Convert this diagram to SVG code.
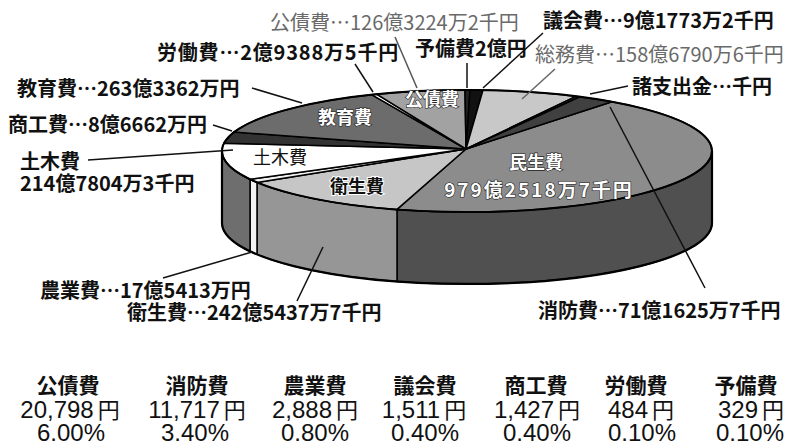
<svg xmlns="http://www.w3.org/2000/svg" width="790" height="446" viewBox="0 0 790 446">
<style>
.lbl{font-family:"Noto Sans CJK JP","Noto Sans CJK SC","DejaVu Sans",sans-serif;font-size:20px;font-weight:bold;fill:#111}
.gry{font-weight:normal;fill:#6a6a6a}
.in{font-family:"Noto Sans CJK JP","Noto Sans CJK SC","DejaVu Sans",sans-serif;font-size:18px;font-weight:bold;fill:#fff;stroke:#222;stroke-width:1.2;paint-order:stroke}
.inb{font-family:"Noto Sans CJK JP","Noto Sans CJK SC","DejaVu Sans",sans-serif;font-size:18px;fill:#111;stroke:#fff;stroke-width:2;paint-order:stroke}
.edge{stroke:#000;stroke-width:1.5;stroke-linejoin:round}
.ld{stroke:#111;stroke-width:1.5;fill:none}
.th{font-family:"Noto Sans CJK JP","Noto Sans CJK SC",sans-serif;font-size:21px;font-weight:bold;fill:#111;text-anchor:middle}
.tv{font-family:"Liberation Sans","Noto Sans CJK JP","Noto Sans CJK SC",sans-serif;font-size:24px;fill:#111;text-anchor:middle}
.yen{font-family:"Noto Sans CJK JP","Noto Sans CJK SC",sans-serif;font-size:22px}
</style>
<rect width="790" height="446" fill="#fff"/>
<g id="pie">
  <g id="sides">
    <path class="edge" fill="#505050" d="M712,151 A245,61 0 0 1 397,209.4 L397,281.4 A245,61 0 0 0 712,223 Z"/>
    <path class="edge" fill="#969696" d="M397,209.4 A245,61 0 0 1 257,182.4 L257,254.4 A245,61 0 0 0 397,281.4 Z"/>
    <path class="edge" fill="#f4f4f4" d="M257,182.4 A245,61 0 0 1 250,179.3 L250,251.3 A245,61 0 0 0 257,254.4 Z"/>
    <path class="edge" fill="#6e6e6e" d="M250,179.3 A245,61 0 0 1 222,151 L222,223 A245,61 0 0 0 250,251.3 Z"/>
  </g>
  <g id="top">
    <path id="s-minsei" class="edge" fill="#8c8c8c" d="M466,149 L612,101.8 A245,61 0 0 1 397,209.4 Z"/>
    <path id="s-eisei" class="edge" fill="#c6c6c6" d="M466,149 L397,209.4 A245,61 0 0 1 257,182.4 Z"/>
    <path id="s-nogyo" class="edge" fill="#f0f0f0" d="M466,149 L257,182.4 A245,61 0 0 1 250,179.3 Z"/>
    <path id="s-doboku" class="edge" fill="#ffffff" d="M466,149 L250,179.3 A245,61 0 0 1 224,143.2 Z"/>
    <path id="s-shoko" class="edge" fill="#333" d="M466,149 L224,143.2 A245,61 0 0 1 234,132.1 Z"/>
    <path id="s-kyoiku" class="edge" fill="#6c6c6c" d="M466,149 L234,132.1 A245,61 0 0 1 372,94.8 Z"/>
    <path id="s-rodo" class="edge" fill="#ffffff" d="M466,149 L372,94.8 A245,61 0 0 1 377,94.3 Z"/>
    <path id="s-kosai" class="edge" fill="#a2a2a2" d="M466,149 L377,94.3 A245,61 0 0 1 465,90 Z"/>
    <path id="s-yobi" class="edge" fill="#222" d="M466,149 L465,90 A245,61 0 0 1 470,90 Z"/>
    <path id="s-gikai" class="edge" fill="#111" d="M466,149 L470,90 A245,61 0 0 1 483,90.1 Z"/>
    <path id="s-somu" class="edge" fill="#c8c8c8" d="M466,149 L483,90.1 A245,61 0 0 1 576,96.4 Z"/>
    <path id="s-shoshi" class="edge" fill="#222" d="M466,149 L576,96.4 A245,61 0 0 1 580,96.9 Z"/>
    <path id="s-shobo" class="edge" fill="#404040" d="M466,149 L580,96.9 A245,61 0 0 1 612,101.8 Z"/>
  </g>
  <ellipse cx="467" cy="151" rx="245" ry="61" fill="none" stroke="#000" stroke-width="2"/>
  <path d="M222,151 L222,223 A245,61 0 0 0 712,223 L712,151" fill="none" stroke="#000" stroke-width="2.2"/>
  <text class="in" x="432" y="106" text-anchor="middle">公債費</text>
  <text class="in" x="345" y="124" text-anchor="middle">教育費</text>
  <text class="inb" x="280" y="164" text-anchor="middle">土木費</text>
  <text class="inb" x="357" y="193" text-anchor="middle" style="font-weight:bold">衛生費</text>
  <text class="in" x="536" y="169" text-anchor="middle">民生費</text>
  <text class="in" x="539" y="197" text-anchor="middle" style="font-size:19px" letter-spacing="2">979億2518万7千円</text>
</g>
<g id="connectors">
  <line class="ld" style="stroke:#555" x1="395" y1="37" x2="417" y2="88"/>
  <line class="ld" x1="355" y1="64" x2="373" y2="92"/>
  <line class="ld" x1="252" y1="88" x2="302" y2="103"/>
  <line class="ld" x1="213" y1="125" x2="232" y2="131"/>
  <line class="ld" x1="88" y1="160" x2="233" y2="150"/>
  <line class="ld" x1="163" y1="278" x2="252" y2="252"/>
  <line class="ld" x1="297" y1="301" x2="323" y2="247"/>
  <line class="ld" x1="610" y1="107" x2="705" y2="288"/>
  <line class="ld" x1="543" y1="33" x2="483" y2="88"/>
  <line class="ld" x1="467" y1="63" x2="467" y2="88"/>
  <line class="ld" style="stroke:#666" x1="555" y1="69" x2="522" y2="99"/>
  <line class="ld" x1="628" y1="86" x2="590" y2="94"/>
</g>
<g id="labels">
  <text class="lbl gry" x="270" y="30">公債費…126億3224万2千円</text>
  <text class="lbl" x="157" y="60" letter-spacing="0.8">労働費…2億9388万5千円</text>
  <text class="lbl" x="17" y="96">教育費…263億3362万円</text>
  <text class="lbl" x="8" y="132">商工費…8億6662万円</text>
  <text class="lbl" x="20" y="169">土木費</text>
  <text class="lbl" x="20" y="191">214億7804万3千円</text>
  <text class="lbl" x="40" y="298">農業費…17億5413万円</text>
  <text class="lbl" x="127" y="320">衛生費…242億5437万7千円</text>
  <text class="lbl" x="538" y="318">消防費…71億1625万7千円</text>
  <text class="lbl" x="543" y="28">議会費…9億1773万2千円</text>
  <text class="lbl" x="415" y="56">予備費2億円</text>
  <text class="lbl gry" x="535" y="62">総務費…158億6790万6千円</text>
  <text class="lbl" x="632" y="94">諸支出金…千円</text>
</g>
<g id="table">
  <text class="th" x="68" y="393">公債費</text>
  <text class="tv" x="70" y="418">20,798<tspan class="yen" dx="4">円</tspan></text>
  <text class="tv" x="71" y="441">6.00%</text>
  <text class="th" x="197" y="393">消防費</text>
  <text class="tv" x="197" y="418">11,717<tspan class="yen" dx="4">円</tspan></text>
  <text class="tv" x="195" y="441">3.40%</text>
  <text class="th" x="315" y="393">農業費</text>
  <text class="tv" x="315" y="418">2,888<tspan class="yen" dx="4">円</tspan></text>
  <text class="tv" x="315" y="441">0.80%</text>
  <text class="th" x="425" y="393">議会費</text>
  <text class="tv" x="424" y="418">1,511<tspan class="yen" dx="4">円</tspan></text>
  <text class="tv" x="425" y="441">0.40%</text>
  <text class="th" x="536" y="393">商工費</text>
  <text class="tv" x="537" y="418">1,427<tspan class="yen" dx="4">円</tspan></text>
  <text class="tv" x="537" y="441">0.40%</text>
  <text class="th" x="636" y="393">労働費</text>
  <text class="tv" x="641" y="418">484<tspan class="yen" dx="4">円</tspan></text>
  <text class="tv" x="642" y="441">0.10%</text>
  <text class="th" x="746" y="393">予備費</text>
  <text class="tv" x="751" y="418">329<tspan class="yen" dx="4">円</tspan></text>
  <text class="tv" x="750" y="441">0.10%</text>
</g>
</svg>
